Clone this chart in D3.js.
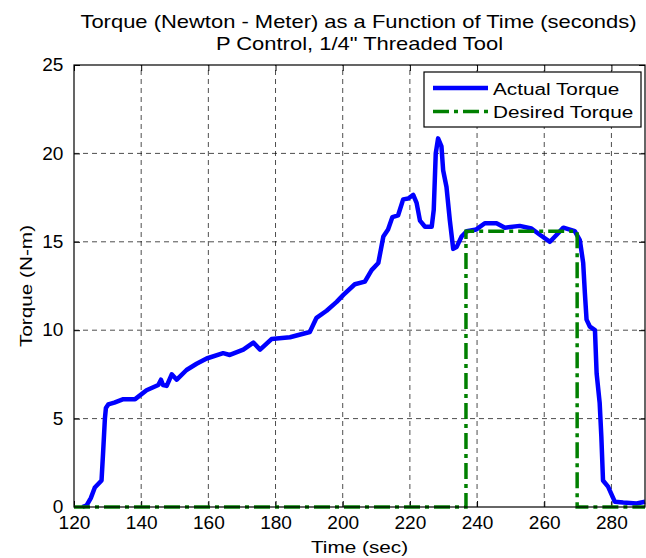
<!DOCTYPE html>
<html>
<head>
<meta charset="utf-8">
<script src="https://cdn.jsdelivr.net/npm/d3@7"></script>
<style>
  body { margin: 0; background: #fff; }
  svg text { font-family: "Liberation Sans", Arial, Helvetica, sans-serif; fill: #000; }
</style>
</head>
<body>
<script>
// actual torque: [time (s), torque (N-m)]
const actualTorque = [
  [122.5, 0], [123.8, 0.1], [125, 0.5], [126.2, 1.1], [128.2, 1.5], [128.7, 3.2], [129.2, 5.0],
  [129.5, 5.6], [130.2, 5.8], [132, 5.9], [134.7, 6.1], [138.2, 6.1], [141.6, 6.6], [145.1, 6.9],
  [145.9, 7.2], [146.5, 6.9], [147.6, 6.85], [149.1, 7.5], [150.6, 7.2], [153.5, 7.75], [156.5, 8.1],
  [159.5, 8.4], [164.4, 8.7], [166.4, 8.6], [170.4, 8.9], [173.4, 9.3], [175.4, 8.9], [178.8, 9.5],
  [184.3, 9.6], [190.2, 9.9], [192.2, 10.7], [195.2, 11.1], [198.2, 11.6], [200.2, 12.0], [203.6, 12.6],
  [206.6, 12.75], [208.6, 13.4], [210.6, 13.8], [212.1, 15.3], [213.5, 15.7], [214.8, 16.4], [216.5, 16.5],
  [218.0, 17.4], [219.5, 17.45], [221.0, 17.65], [222.0, 17.2], [223.0, 16.2], [224.5, 15.85], [226.5, 15.85],
  [227.1, 16.8], [227.7, 20.0], [228.4, 20.85], [229.4, 20.4], [229.9, 19.05], [230.9, 18.1], [231.9, 16.2],
  [232.9, 14.6], [233.9, 14.7], [235.4, 15.3], [236.9, 15.6], [239.8, 15.7], [242.3, 16.05], [245.8, 16.05],
  [248.3, 15.8], [252.7, 15.9], [256.2, 15.75], [258.7, 15.4], [261.7, 15.0], [263.7, 15.4], [265.7, 15.8],
  [269.1, 15.6], [270.6, 15.1], [271.6, 13.8], [272.1, 12.1], [272.6, 10.6], [273.6, 10.2], [275.1, 10.0],
  [275.6, 7.55], [276.5, 5.9], [277.0, 4.0], [277.5, 1.5], [279.0, 1.15], [281.0, 0.3], [283.5, 0.25],
  [287.5, 0.2], [290, 0.3]
];

// desired torque: a step up at ~236.7 s and back down at ~269.8 s
const desiredTorque = [
  [120, 0], [236.7, 0], [236.7, 15.6], [269.8, 15.6], [269.8, 0], [290, 0]
];

const xTicks = [120, 140, 160, 180, 200, 220, 240, 260, 280];
const yTicks = [0, 5, 10, 15, 20, 25];
const seriesNames = ["Actual Torque", "Desired Torque"];

const width = 646, height = 558;
const margin = { left: 74, right: 1, top: 65, bottom: 51 };
const stretch = 1.22; // the original font runs wider than Arial

const svg = d3.select("body").append("svg")
  .attr("width", width)
  .attr("height", height);

const x = d3.scaleLinear().domain([120, 290]).range([margin.left, width - margin.right]);
const y = d3.scaleLinear().domain([0, 25]).range([height - margin.bottom, margin.top]);

const x0 = x.range()[0], x1 = x.range()[1];
const y0 = y.range()[0], y1 = y.range()[1];

function label(px, py, str, size, rotate) {
  return svg.append("text")
    .attr("transform", `translate(${px},${py}) rotate(${rotate || 0}) scale(${stretch},1)`)
    .attr("text-anchor", "middle")
    .style("font-size", size + "px")
    .text(str);
}

// grid
const grid = svg.append("g")
  .attr("stroke", "#000")
  .attr("stroke-width", 0.7)
  .attr("stroke-dasharray", "5,4");

grid.selectAll(".gx").data(xTicks.slice(1))
  .enter().append("line")
  .attr("x1", d => x(d)).attr("x2", d => x(d))
  .attr("y1", y0).attr("y2", y1);

grid.selectAll(".gy").data(yTicks.slice(1, -1))
  .enter().append("line")
  .attr("x1", x0).attr("x2", x1)
  .attr("y1", d => y(d)).attr("y2", d => y(d));

// axes, ticks pointing inward like matlab
const tickLen = 6;
const bottomAxis = d3.axisBottom(x).tickValues(xTicks).tickSizeInner(-tickLen).tickSizeOuter(0).tickPadding(9);
const topAxis = d3.axisTop(x).tickValues(xTicks).tickSizeInner(-tickLen).tickSizeOuter(0).tickFormat("");
const leftAxis = d3.axisLeft(y).tickValues(yTicks).tickSizeInner(-tickLen).tickSizeOuter(0).tickPadding(10);
const rightAxis = d3.axisRight(y).tickValues(yTicks).tickSizeInner(-tickLen).tickSizeOuter(0).tickFormat("");

function styleAxis(g) {
  g.select(".domain").remove();
  g.selectAll(".tick line").attr("stroke", "#000");
  g.selectAll(".tick text")
    .style("font-size", "18px")
    .attr("transform", "scale(1.06,1)")
    .attr("fill", "#000");
}

svg.append("g").attr("transform", `translate(0,${y0})`).call(bottomAxis).call(styleAxis);
svg.append("g").attr("transform", `translate(0,${y1})`).call(topAxis).call(styleAxis);
svg.append("g").attr("transform", `translate(${x0},0)`).call(leftAxis).call(styleAxis);
svg.append("g").attr("transform", `translate(${x1},0)`).call(rightAxis).call(styleAxis);

// lines
const line = d3.line().x(d => x(d[0])).y(d => y(d[1]));
const greenDash = "16,5,4,5";

svg.append("path")
  .datum(actualTorque)
  .attr("d", line)
  .attr("fill", "none")
  .attr("stroke", "#0000ff")
  .attr("stroke-width", 4.5)
  .attr("stroke-linejoin", "round");

svg.append("path")
  .datum(desiredTorque)
  .attr("d", line)
  .attr("fill", "none")
  .attr("stroke", "#008000")
  .attr("stroke-width", 3.5)
  .attr("stroke-dasharray", greenDash);

// box
svg.append("rect")
  .attr("x", x0).attr("y", y1)
  .attr("width", x1 - x0).attr("height", y0 - y1)
  .attr("fill", "none")
  .attr("stroke", "#000")
  .attr("stroke-width", 1.2);

// legend
const legend = svg.append("g").attr("transform", "translate(424,72)");
legend.append("rect")
  .attr("width", 217).attr("height", 55)
  .attr("fill", "#fff")
  .attr("stroke", "#000")
  .attr("stroke-width", 1.2);

const legendStyles = [
  { color: "#0000ff", dash: null, w: 4.5 },
  { color: "#008000", dash: greenDash, w: 3.5 }
];

seriesNames.forEach((name, i) => {
  const ly = 16 + i * 23.5;
  legend.append("line")
    .attr("x1", 9).attr("x2", 64)
    .attr("y1", ly).attr("y2", ly)
    .attr("stroke", legendStyles[i].color)
    .attr("stroke-width", legendStyles[i].w)
    .attr("stroke-dasharray", legendStyles[i].dash);
  legend.append("text")
    .attr("transform", `translate(69,${ly + 6.5}) scale(${stretch},1)`)
    .style("font-size", "17px")
    .text(name);
});

// titles
const cx = (x0 + x1) / 2;
label(cx - 1, 28, "Torque (Newton - Meter) as a Function of Time (seconds)", 18);
label(cx, 49.5, "P Control, 1/4\" Threaded Tool", 18);
label(cx, 553, "Time (sec)", 17);
label(32, (y0 + y1) / 2, "Torque (N-m)", 17, -90);
</script>
</body>
</html>
